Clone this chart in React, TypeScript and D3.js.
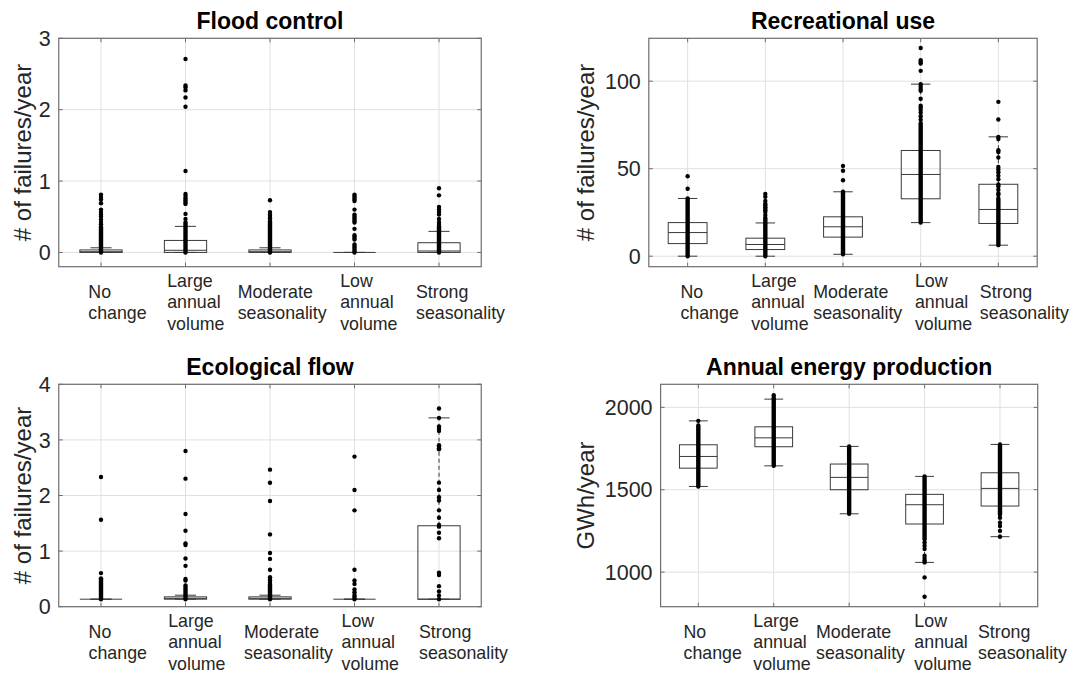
import React from "react";
import * as d3 from "d3";

// ---------- data ----------
const categories: string[][] = [
  ["No", "change"],
  ["Large", "annual", "volume"],
  ["Moderate", "seasonality"],
  ["Low", "annual", "volume"],
  ["Strong", "seasonality"],
];

// box stats per category: [lower whisker, q1, median, q3, upper whisker]
const floodBox = [
  [0, 0, 0.01, 0.035, 0.065],
  [0, 0, 0.03, 0.168, 0.365],
  [0, 0, 0.01, 0.035, 0.065],
  [0, 0, 0, 0, 0],
  [0, 0, 0.02, 0.136, 0.295],
];
const floodDense = [
  [[0, 0.36]],
  [[0, 0.42]],
  [[0, 0.44]],
  [[0, 0.11], [0.18, 0.24], [0.42, 0.53], [0.72, 0.81]],
  [[0, 0.37]],
];
const floodPoints = [
  [0.395, 0.425, 0.46, 0.5, 0.53, 0.565, 0.6, 0.69, 0.74, 0.775, 0.81],
  [0.47, 0.54, 0.68, 0.7, 0.73, 0.76, 0.79, 0.82, 1.14, 2.04, 2.17, 2.27, 2.31, 2.34, 2.71],
  [0.48, 0.51, 0.53, 0.565, 0.73],
  [0.33, 0.6],
  [0.4, 0.425, 0.47, 0.53, 0.566, 0.6, 0.636, 0.8, 0.9],
];

const recBox = [
  [0, 7.2, 13.5, 19.2, 33.0],
  [0, 3.8, 6.7, 10.3, 19.0],
  [1.1, 10.9, 16.8, 22.5, 36.8],
  [19.2, 32.8, 46.7, 60.4, 98.3],
  [6.3, 18.7, 26.7, 41.1, 68.2],
];
const recDense = [
  [[0, 33]],
  [[0, 22]],
  [[1.1, 36.8]],
  [[19.2, 76]],
  [[6.3, 33]],
];
const recPoints = [
  [38.5, 45.7],
  [23.5, 25.3, 26.2, 27.2, 28.0, 29.1, 30.0, 31.5, 33.9, 35.6],
  [43.4, 48.8, 51.6],
  [78, 80, 82, 83.5, 85, 86, 90, 94.5, 95.6, 96.8, 98.3, 105.9, 110.1, 110.9, 112.0, 119.0],
  [35, 36, 38, 40, 41, 44, 46, 48, 49.5, 51.0, 56.4, 59.5, 60.6, 67.0, 68.2, 78.1, 88.2],
];

const ecoBox = [
  [0.135, 0.135, 0.135, 0.135, 0.135],
  [0.135, 0.135, 0.15, 0.177, 0.207],
  [0.135, 0.135, 0.15, 0.177, 0.207],
  [0.135, 0.135, 0.135, 0.135, 0.135],
  [0.135, 0.135, 0.135, 1.456, 3.396],
];
const ecoDense = [
  [[0.135, 0.51]],
  [[0.135, 0.38]],
  [[0.135, 0.4]],
  [[0.135, 0.21]],
  [],
];
const ecoPoints = [
  [0.604, 1.564, 2.333],
  [0.47, 0.5, 0.735, 0.868, 1.108, 1.138, 1.366, 1.667, 2.303, 2.8],
  [0.43, 0.47, 0.5, 0.53, 0.665, 0.86, 0.965, 1.3, 1.9, 2.23, 2.465],
  [0.26, 0.31, 0.41, 0.47, 0.664, 1.733, 2.099, 2.7],
  [0.135, 0.2, 0.274, 0.37, 0.57, 0.61, 1.23, 1.33, 1.44, 1.47, 1.6, 1.733, 1.91, 1.968, 2.099, 2.231, 2.83, 2.85, 2.88, 2.904, 3.162, 3.2, 3.24, 3.396, 3.565],
];

const energyBox = [
  [1520, 1631, 1702, 1773, 1918],
  [1645, 1761, 1815, 1882, 2050],
  [1354, 1500, 1575, 1656, 1763],
  [1059, 1292, 1409, 1472, 1581],
  [1215, 1401, 1508, 1603, 1775],
];
const energyDense = [
  [[1520, 1890]],
  [[1645, 2060]],
  [[1354, 1763]],
  [[1200, 1581]],
  [[1350, 1775]],
];
const energyPoints = [
  [1918],
  [2074],
  [],
  [1059, 1070, 1085, 1100, 1140, 1160, 1180, 968, 850],
  [1215, 1250, 1280, 1300, 1330],
];

const floodTicks = [0, 1, 2, 3];
const recTicks = [0, 50, 100];
const ecoTicks = [0, 1, 2, 3, 4];
const energyTicks = [1000, 1500, 2000];

// ---------- layout ----------
const FONT = "'Liberation Sans', Arial, Helvetica, sans-serif";

type PanelDef = {
  title: string;
  ylabel: string;
  box: number[][];
  dense: number[][][];
  points: number[][];
  ticks: number[];
  domain: [number, number];
  left: number;
  right: number;
  top: number;
  bottom: number;
  ylabelX: number;
  labelOffsets: number[];
};

const panels: PanelDef[] = [
  {
    title: "Flood control", ylabel: "# of failures/year",
    box: floodBox, dense: floodDense, points: floodPoints, ticks: floodTicks,
    domain: [-0.2, 3], left: 58.75, right: 481.25, top: 38.3, bottom: 266.7,
    ylabelX: 22, labelOffsets: [-12.7, -18.3, -32.3, -14.3, -23],
  },
  {
    title: "Recreational use", ylabel: "# of failures/year",
    box: recBox, dense: recDense, points: recPoints, ticks: recTicks,
    domain: [-6, 124.5], left: 648.8, right: 1037.2, top: 38.3, bottom: 266.7,
    ylabelX: 585, labelOffsets: [-7.2, -14.1, -29.7, -5.8, -18.5],
  },
  {
    title: "Ecological flow", ylabel: "# of failures/year",
    box: ecoBox, dense: ecoDense, points: ecoPoints, ticks: ecoTicks,
    domain: [0, 4], left: 58.75, right: 481.25, top: 384.3, bottom: 606.7,
    ylabelX: 22, labelOffsets: [-12.4, -17.3, -26, -12.9, -20],
  },
  {
    title: "Annual energy production", ylabel: "GWh/year",
    box: energyBox, dense: energyDense, points: energyPoints, ticks: energyTicks,
    domain: [790, 2140], left: 660.6, right: 1037.7, top: 384.3, bottom: 606.7,
    ylabelX: 585.6, labelOffsets: [-14.8, -20.4, -33.1, -10.2, -22],
  },
];

const BOX_COLOR = "#3a3a3a";
const AXIS_COLOR = "#6e6e6e";
const GRID_COLOR = "#e0e0e0";
const LINE_H = 21.7;

function Panel({ p }: { p: PanelDef }) {
  const x = d3.scaleLinear().domain([0.5, categories.length + 0.5]).range([p.left, p.right]);
  const y = d3.scaleLinear().domain(p.domain).range([p.bottom, p.top]);
  const step = x(2) - x(1);
  const boxW = step * 0.5;
  const capW = boxW * 0.5;
  const cats = d3.range(1, categories.length + 1);
  const midY = (p.top + p.bottom) / 2;
  const tickLen = 4;
  const labelMid = p.bottom + 41.7;

  return (
    <g>
      {/* grid */}
      {cats.map((c) => (
        <line key={"gx" + c} x1={x(c)} x2={x(c)} y1={p.top} y2={p.bottom} stroke={GRID_COLOR} strokeWidth={1} />
      ))}
      {p.ticks.map((t) => (
        <line key={"gy" + t} x1={p.left} x2={p.right} y1={y(t)} y2={y(t)} stroke={GRID_COLOR} strokeWidth={1} />
      ))}

      {/* boxes */}
      {p.box.map((b, i) => {
        const cx = x(i + 1);
        const [lo, q1, med, q3, hi] = b;
        return (
          <g key={"b" + i} fill="none" stroke={BOX_COLOR} strokeWidth={1}>
            <line x1={cx} x2={cx} y1={y(q3)} y2={y(hi)} strokeDasharray="4 3" />
            <line x1={cx} x2={cx} y1={y(q1)} y2={y(lo)} strokeDasharray="4 3" />
            <line x1={cx - capW / 2} x2={cx + capW / 2} y1={y(hi)} y2={y(hi)} />
            <line x1={cx - capW / 2} x2={cx + capW / 2} y1={y(lo)} y2={y(lo)} />
            <rect x={cx - boxW / 2} y={y(q3)} width={boxW} height={Math.max(0, y(q1) - y(q3))} />
            <line x1={cx - boxW / 2} x2={cx + boxW / 2} y1={y(med)} y2={y(med)} />
          </g>
        );
      })}

      {/* data points */}
      {p.dense.map((ranges, i) =>
        ranges.map((r, j) => (
          <line key={"d" + i + "-" + j} x1={x(i + 1)} x2={x(i + 1)} y1={y(r[0])} y2={y(r[1])}
            stroke="#000" strokeWidth={4.4} strokeLinecap="round" />
        ))
      )}
      {p.points.map((pts, i) =>
        pts.map((v, j) => <circle key={"p" + i + "-" + j} cx={x(i + 1)} cy={y(v)} r={2.2} fill="#000" />)
      )}

      {/* axes box and ticks */}
      <rect x={p.left} y={p.top} width={p.right - p.left} height={p.bottom - p.top} fill="none" stroke={AXIS_COLOR} strokeWidth={1.2} />
      {cats.map((c) => (
        <g key={"tx" + c} stroke={AXIS_COLOR} strokeWidth={1}>
          <line x1={x(c)} x2={x(c)} y1={p.bottom} y2={p.bottom - tickLen} />
          <line x1={x(c)} x2={x(c)} y1={p.top} y2={p.top + tickLen} />
        </g>
      ))}
      {p.ticks.map((t) => (
        <g key={"ty" + t} stroke={AXIS_COLOR} strokeWidth={1}>
          <line x1={p.left} x2={p.left + tickLen} y1={y(t)} y2={y(t)} />
          <line x1={p.right} x2={p.right - tickLen} y1={y(t)} y2={y(t)} />
        </g>
      ))}

      {/* y tick labels */}
      {p.ticks.map((t) => (
        <text key={"yl" + t} x={p.left - 8} y={y(t)} dy="0.36em" textAnchor="end"
          fontFamily={FONT} fontSize={21.5} fill="#262626">{t}</text>
      ))}

      {/* x tick labels */}
      {categories.map((lines, i) => (
        <text key={"xl" + i} fontFamily={FONT} fontSize={17.8} fill="#262626">
          {lines.map((ln, k) => (
            <tspan key={k} x={x(i + 1) + p.labelOffsets[i]}
              y={labelMid + (k - (lines.length - 1) / 2) * LINE_H}>{ln}</tspan>
          ))}
        </text>
      ))}

      {/* y label */}
      <text transform={`translate(${p.ylabelX},${midY}) rotate(-90)`} textAnchor="middle" dy="0.36em"
        fontFamily={FONT} fontSize={24} fill="#262626">{p.ylabel}</text>

      {/* title */}
      <text x={(p.left + p.right) / 2} y={p.top - 9.5} textAnchor="middle"
        fontFamily={FONT} fontSize={23} fontWeight="bold" fill="#000">{p.title}</text>
    </g>
  );
}

export default function App() {
  return (
    <div style={{ position: "absolute", left: 0, top: 0 }}>
      <svg width={1073} height={676} viewBox="0 0 1073 676" style={{ display: "block", background: "#fff" }}>
        <rect width={1073} height={676} fill="#fff" />
        {panels.map((p, i) => <Panel key={i} p={p} />)}
      </svg>
    </div>
  );
}
